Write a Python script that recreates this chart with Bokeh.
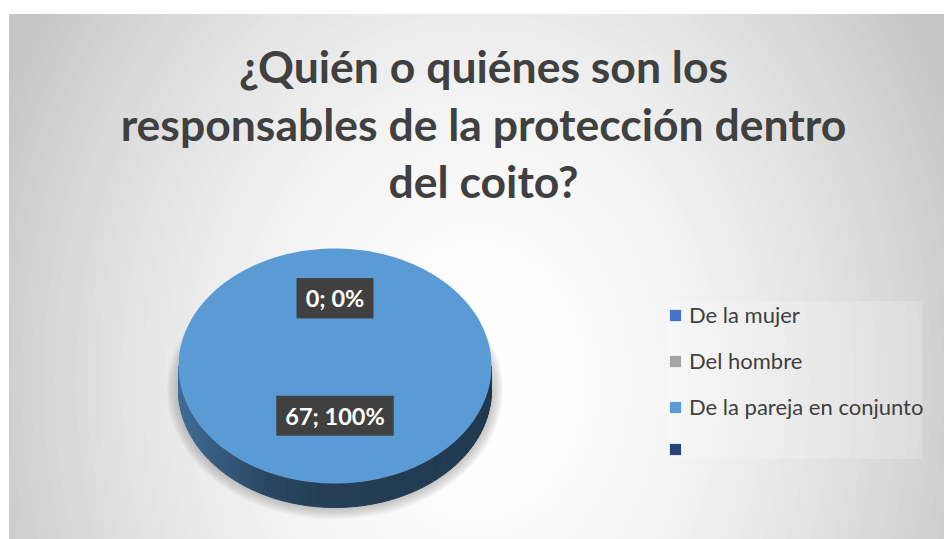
import numpy as np
from bokeh.plotting import figure
from bokeh.models import Range1d, Label, Legend, LegendItem, ColumnDataSource
from bokeh.embed import file_html
from bokeh.resources import INLINE

# ---------------- data ----------------
title_lines = ["¿Quién o quiénes son los",
               "responsables de la protección dentro",
               "del coito?"]
categories = ["De la mujer", "Del hombre", "De la pareja en conjunto", ""]
values = [0, 0, 67, None]
colors = ["#4472C4", "#A5A5A5", "#5B9BD5", "#264478"]

# ---------------- figure ----------------
W, H = 944, 539
p = figure(width=W, height=H, output_backend="svg", toolbar_location=None,
           x_range=Range1d(9, 944), y_range=Range1d(539, 14),
           x_axis_location=None, y_axis_location=None,
           min_border_left=9, min_border_top=14, min_border_right=0, min_border_bottom=0)
p.title.visible = False
p.grid.visible = False
p.border_fill_color = "white"
p.background_fill_color = "#c8c8c8"
p.outline_line_color = "#cfcfcf"
p.outline_line_width = 1

# background radial gradient (decoration)
gcx, gcy, ga, gb = 476, 380, 500, 640
for k in range(70, 0, -1):
    d = k / 45.0
    c = int(round(max(198, 255 - 52 * d ** 1.8)))
    p.ellipse(x=gcx, y=gcy, width=2 * ga * d, height=2 * gb * d,
              fill_color=(c, c, c), line_color=None)

# ---------------- pie geometry ----------------
cx, cy, rx, ry, depth = 334.5, 365.5, 156.5, 117.5, 24

vals = [0 if v is None else v for v in values]
total = float(sum(vals))
starts, ends = [], []
acc = 0.0
for v in vals:
    starts.append(acc / total * 2 * np.pi)
    acc += v
    ends.append(acc / total * 2 * np.pi)

def pt(a, dy=0.0, f=1.0):
    # Excel angle: 0 at 12 o'clock, clockwise; y grows downward (flipped range)
    return cx + f * rx * np.sin(a), cy + dy - f * ry * np.cos(a)

# soft shadow
for k in range(11):
    p.ellipse(x=cx, y=cy + depth, width=2 * (rx + 1 + k * 1.1), height=2 * (ry + 1 + k * 1.1),
              fill_color="#6f6f6f", fill_alpha=0.045, line_color=None)

def hex_to_rgb(h):
    h = h.lstrip("#")
    return tuple(int(h[i:i + 2], 16) for i in (0, 2, 4))

stops = [(0.0, 0.70), (0.12, 0.60), (0.28, 0.46), (0.45, 0.41), (1.0, 0.37)]
def shade(u):
    for (u0, f0), (u1, f1) in zip(stops[:-1], stops[1:]):
        if u <= u1:
            return f0 + (f1 - f0) * (u - u0) / (u1 - u0)
    return stops[-1][1]

# side band (front half, angles 90..270 deg)
N = 90
angs = np.linspace(np.pi / 2, 3 * np.pi / 2, N + 1)
sxs, sys_, scols = [], [], []
for i in range(N):
    a0, a1 = angs[i], angs[i + 1]
    am = 0.5 * (a0 + a1)
    owner = None
    for j in range(len(vals)):
        if vals[j] > 0 and starts[j] <= am < ends[j]:
            owner = j
    if owner is None:
        continue
    x0, y0 = pt(a0)
    x1, y1 = pt(a1)
    x2, y2 = pt(a1, depth)
    x3, y3 = pt(a0, depth)
    sxs.append([x0, x1, x2, x3])
    sys_.append([y0, y1, y2, y3])
    u = ((cx + rx * np.sin(am)) - (cx - rx)) / (2 * rx)
    f = shade(u)
    r, g, b = hex_to_rgb(colors[owner])
    scols.append("#%02x%02x%02x" % (int(r * f), int(g * f), int(b * f)))
p.patches(xs=sxs, ys=sys_, fill_color=scols, line_color=scols, line_width=1)

# top face wedges
txs, tys = [], []
for j in range(len(vals)):
    a = np.linspace(starts[j], ends[j], 200)
    xs = [cx] + list(cx + rx * np.sin(a))
    ys = [cy] + list(cy - ry * np.cos(a))
    txs.append(xs)
    tys.append(ys)
src = ColumnDataSource(dict(xs=txs, ys=tys, color=colors, cat=categories))
top_r = p.patches(xs="xs", ys="ys", fill_color="color", line_color=None, source=src)

# data labels
for j, v in enumerate(values):
    if v is None:
        continue
    pct = int(round(100 * v / total))
    mid = 0.5 * (starts[j] + ends[j])
    lx, ly = pt(mid, -9, 0.5)
    txt = f"{v}; {pct}%"
    common = dict(x=lx, y=ly, text=txt, text_align="center", text_baseline="middle",
                  text_font="Lato", text_font_style="bold", text_font_size="23.5px",
                  padding=(9, 6))
    p.add_layout(Label(**common, text_alpha=0.0, background_fill_color="black",
                       background_fill_alpha=0.35, x_offset=3, y_offset=-4))
    p.add_layout(Label(**common, text_color="white", background_fill_color="#404040"))

# title
for i, line in enumerate(title_lines):
    p.add_layout(Label(x=483, y=65 + 57.5 * i, text=line, text_align="center",
                       text_baseline="middle", text_font="Lato", text_font_style="bold",
                       text_font_size="44.5px", text_color="#404040"))

# legend
items = [LegendItem(label=c, renderers=[top_r], index=i) for i, c in enumerate(categories)]
legend = Legend(items=items, location=(659, 80), glyph_width=14, glyph_height=14,
                label_text_font="Lato", label_text_font_size="22px",
                label_text_color="#404040", label_standoff=7, label_height=20,
                spacing=19, padding=10, margin=0,
                background_fill_color="white", background_fill_alpha=0.2,
                border_line_color=None)
p.add_layout(legend)

open("out.html", "w").write(file_html(p, INLINE))
